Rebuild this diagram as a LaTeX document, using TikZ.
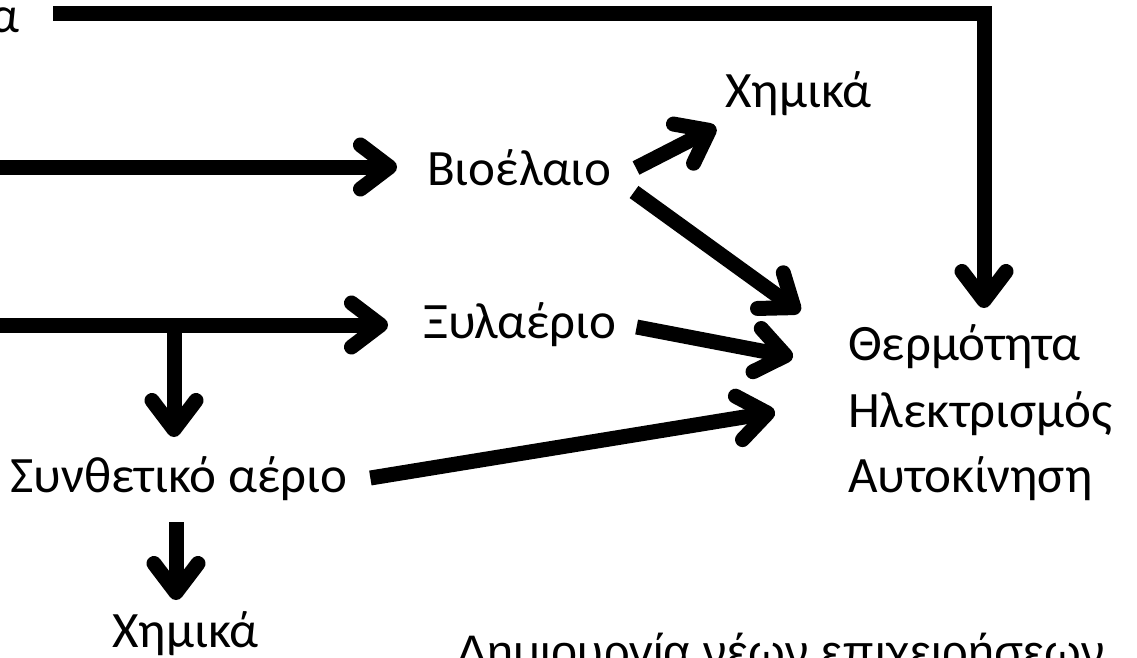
\documentclass[tikz,border=0pt]{standalone}
\usepackage{fontspec}
\setmainfont{Carlito}
\newfontfamily\captionfont{Liberation Sans}
\usetikzlibrary{arrows.meta}

\tikzset{
  flow/.style={line width=15pt,-{Straight Barb[length=29pt,width=44pt,round]}},
  txt/.style={inner sep=0pt,anchor=base west,font=\fontsize{51}{60}\selectfont},
}

\begin{document}
\begin{tikzpicture}[x=1pt,y=-1pt]
    \useasboundingbox (0,0) rectangle (1137,658);
    \clip (0,0) rectangle (1137,658);
    % Products and sources
    \node[txt,anchor=base east] (alpha) at (20,33) {α};
    \node[txt] (bio) at (427,185) {Βιοέλαιο};
    \node[txt] (chemtop) at (725,108) {Χημικά};
    \node[txt] (xyl) at (423,338) {Ξυλαέριο};
    \node[txt] (syn) at (10,492) {Συνθετικό αέριο};
    \node[txt] (chembot) at (112,647) {Χημικά};
    \node[txt] (heat) at (848,360) {Θερμότητα};
    \node[txt] (elec) at (848,427) {Ηλεκτρισμός};
    \node[txt] (auto) at (848,492) {Αυτοκίνηση};
    \node[inner sep=0pt,anchor=base west,font=\captionfont\fontsize{47}{56}\selectfont] (newbiz) at (456,668) {Δημιουργία νέων επιχειρήσεων};

    % Inputs coming in from the left edge
    \coordinate (in2) at (0,167);
    \coordinate (in3) at (0,325);
    \coordinate (fork) at (174,325);
    \coordinate (topstart) at ([shift={(33,-19)}]alpha.base east);

    \draw[flow] (topstart) -| ([shift={(136,-52)}]heat.base west);
    \draw[flow] (in2) -- ([shift={(-30,-18)}]bio.base west);
    \draw[flow] (in3) -- ([shift={(-35,-13)}]xyl.base west);
    \draw[flow] (fork) -- ([shift={(164,-55)}]syn.base west);

    % Outputs
    \draw[flow] ([shift={(24,-17)}]bio.base east) -- ([shift={(-9,19)}]chemtop.base west);
    \draw[flow] ([shift={(22,7)}]bio.base east) -- ([shift={(-48,-48)}]heat.base west);
    \draw[flow] ([shift={(20,-11)}]xyl.base east) -- ([shift={(-55,-3)}]heat.base west);
    \draw[flow] ([shift={(23,-14)}]syn.base east) -- ([shift={(-73,52)}]heat.base west);
    \draw[flow] ([shift={(166,30)}]syn.base west) -- ([shift={(64,-47)}]chembot.base west);
\end{tikzpicture}
\end{document}
